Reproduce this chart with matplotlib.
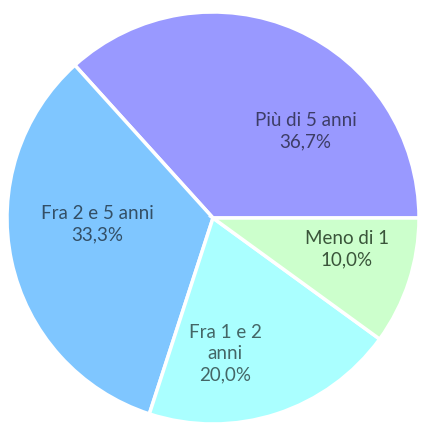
import matplotlib.pyplot as plt

labels = ["Più di 5 anni", "Fra 2 e 5 anni", "Fra 1 e 2\nanni", "Meno di 1"]
values = [36.7, 33.3, 20.0, 10.0]
colors = ["#9999ff", "#7fc6ff", "#aaffff", "#ccffcc"]
text_colors = ["#3d3d66", "#334f66", "#446666", "#3a553a"]
# label centres, in units of the pie radius
label_pos = [(0.45, 0.42), (-0.56, -0.03), (0.06, -0.66), (0.65, -0.15)]

fig = plt.figure(figsize=(4.22, 4.23), dpi=100)
ax = fig.add_axes([0, 0, 1, 1])
ax.pie(values, colors=colors, startangle=0, counterclock=True, radius=1,
       wedgeprops=dict(edgecolor="white", linewidth=2.5))

for lab, v, c, (x, y) in zip(labels, values, text_colors, label_pos):
    txt = lab + "\n" + f"{v:.1f}%".replace(".", ",")
    ax.text(x, y, txt, ha="center", va="center", color=c, fontsize=13.5,
            family="Lato", linespacing=1.3)

ax.set_xlim(-213 / 206, 209 / 206)
ax.set_ylim(-205 / 206, 218 / 206)
ax.set_aspect("equal")
ax.axis("off")
fig.savefig("out.png", dpi=100)
